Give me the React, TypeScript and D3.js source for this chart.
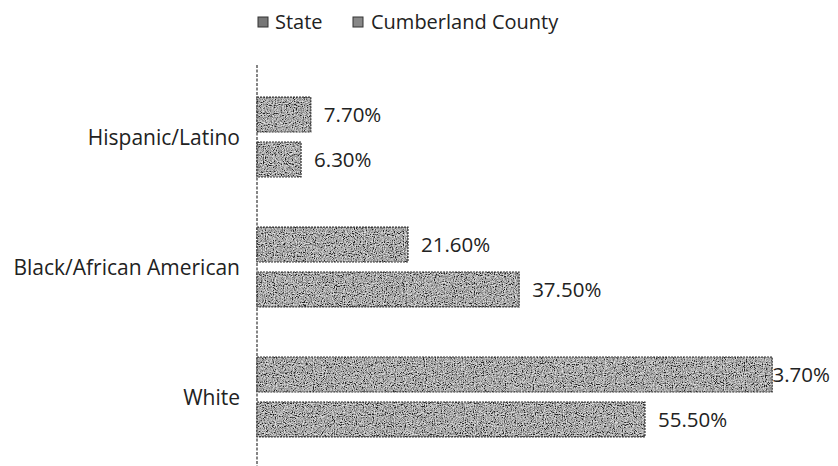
import React from "react";
import * as d3 from "d3";

const categories = ["Hispanic/Latino", "Black/African American", "White"];
const seriesNames = ["State", "Cumberland County"];
const stateValues = [7.7, 21.6, 73.7];
const countyValues = [6.3, 37.5, 55.5];

const W = 838;
const H = 466;
const FONT = "'Open Sans', Lato, sans-serif";
const FS_LEGEND = 20;
const FS_VALUE = 20.5;
const FS_CAT = 21;
const LABEL_RIGHT = 240;
const MAX_TEXT_END = 830;

export default function App() {
  const x = d3.scaleLinear().domain([0, 80]).range([257, 257 + 80 * 6.99]);
  const y = d3
    .scaleBand<string>()
    .domain(categories)
    .range([47, 487])
    .paddingInner(0.385)
    .paddingOuter(0.385);
  const inner = d3
    .scaleBand<string>()
    .domain(seriesNames)
    .range([0, y.bandwidth()])
    .paddingInner(0.222);

  const rows = categories.flatMap((c, i) => [
    { cat: c, s: seriesNames[0], v: stateValues[i] },
    { cat: c, s: seriesNames[1], v: countyValues[i] },
  ]);

  const approxWidth = (t: string) => t.length * FS_VALUE * 0.6;

  return (
    <svg width={W} height={H} style={{ position: "absolute", left: 0, top: 0, background: "#fff" }}>
      <defs>
        <filter id="grain" x="0" y="0" width="100%" height="100%">
          <feTurbulence type="fractalNoise" baseFrequency="0.9" numOctaves="2" seed="3" result="noise" />
          <feColorMatrix in="noise" type="saturate" values="0" result="g" />
          <feComponentTransfer in="g" result="c">
            <feFuncR type="linear" slope="3" intercept="-1.05" />
            <feFuncG type="linear" slope="3" intercept="-1.05" />
            <feFuncB type="linear" slope="3" intercept="-1.05" />
            <feFuncA type="linear" slope="0" intercept="1" />
          </feComponentTransfer>
          <feComposite in="c" in2="SourceGraphic" operator="in" />
        </filter>
      </defs>
      <rect width={W} height={H} fill="#fff" />
      {/* legend */}
      <g fontFamily={FONT} fontSize={FS_LEGEND} fill="#222">
        <rect x={258} y={17} width={10} height={10} fill="#777" stroke="#333" strokeWidth={1} />
        <text x={275} y={29}>{seriesNames[0]}</text>
        <rect x={353} y={17} width={10} height={10} fill="#888" stroke="#333" strokeWidth={1} />
        <text x={371} y={29}>{seriesNames[1]}</text>
      </g>
      {/* axis */}
      <line x1={x(0)} x2={x(0)} y1={65} y2={466} stroke="#444" strokeWidth={1.3} strokeDasharray="3 1.5" />
      {/* value labels (drawn under the bars) */}
      {rows.map((r, i) => {
        const by = (y(r.cat) ?? 0) + (inner(r.s) ?? 0);
        const t = r.v.toFixed(2) + "%";
        const start = x(r.v) + 13;
        const overflow = start + approxWidth(t) > MAX_TEXT_END;
        return (
          <text
            key={"l" + i}
            x={overflow ? MAX_TEXT_END : start}
            y={by + inner.bandwidth() / 2}
            dy="0.36em"
            textAnchor={overflow ? "end" : "start"}
            fontFamily={FONT}
            fontSize={FS_VALUE}
            fill="#222"
          >
            {t}
          </text>
        );
      })}
      {/* bars */}
      {rows.map((r, i) => {
        const by = (y(r.cat) ?? 0) + (inner(r.s) ?? 0);
        const bw = x(r.v) - x(0);
        return (
          <g key={i}>
            <rect x={x(0)} y={by} width={bw} height={inner.bandwidth()} fill="#8a8a8a" />
            <rect x={x(0)} y={by} width={bw} height={inner.bandwidth()} fill="#fff" filter="url(#grain)" opacity={0.75} />
            <rect x={x(0)} y={by} width={bw} height={inner.bandwidth()} fill="none" stroke="#333" strokeWidth={1.2} strokeDasharray="2 1" />
          </g>
        );
      })}
      {/* category labels */}
      {categories.map((c) => (
        <text
          key={c}
          x={LABEL_RIGHT}
          y={(y(c) ?? 0) + y.bandwidth() / 2}
          dy="0.36em"
          textAnchor="end"
          fontFamily={FONT}
          fontSize={FS_CAT}
          fill="#222"
        >
          {c}
        </text>
      ))}
    </svg>
  );
}
